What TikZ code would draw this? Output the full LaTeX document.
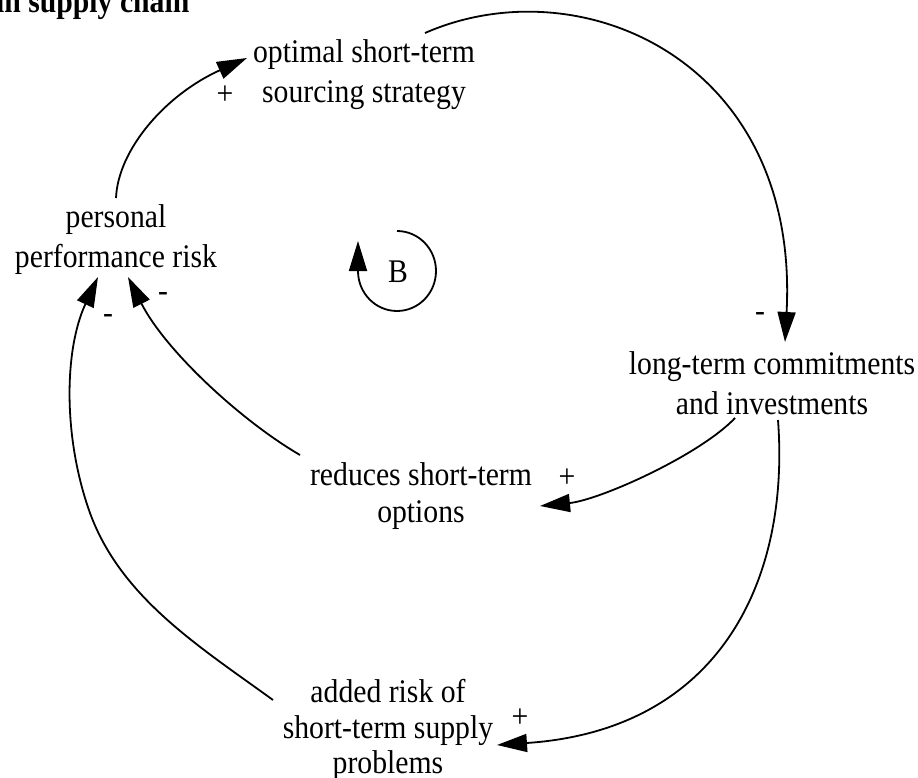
\documentclass[tikz,border=0pt]{standalone}
\usepackage{fontspec}
\setmainfont{Liberation Serif}[FakeStretch=0.9]
\usetikzlibrary{arrows.meta}
\begin{document}
\begin{tikzpicture}[x=1pt,y=-1pt,
  var/.style={align=center,inner sep=0pt,font=\fontsize{33}{40}\selectfont},
  sign/.style={inner sep=0pt,font=\fontsize{33}{40}\selectfont},
  link/.style={line width=1.8pt,-{Triangle[length=30pt,width=18pt]}},
]
\useasboundingbox (0,0) rectangle (918,778);

% heading, partly above the page edge
\node[anchor=base west,inner sep=0pt,font=\fontsize{33}{40}\selectfont\bfseries] (title) at (-4,13) {in supply chain};

% variables of the loop
\node[var] (opt) at (364,75) {optimal short-term\\sourcing strategy};
\node[var] (pp)  at (116,240) {personal\\performance risk};
\node[var] (lt)  at (772,383) {long-term commitments\\and investments};
\node[var,font=\fontsize{33}{37}\selectfont] (red) at (421,496) {reduces short-term\\options};
\node[var,font=\fontsize{33}{35.5}\selectfont] (add) at (388,730) {added risk of\\short-term supply\\problems};

% balancing loop marker
\node[sign] (B) at (398,272) {B};
\draw[link] ([shift={(-1,-41)}]B.center) arc[start angle=-90,end angle=180,x radius=39,y radius=40] -- ++(0,-30);

% causal links
\draw[link] ([shift={(0,-42)}]pp.center) .. controls (118,150) and (165,95) .. ([shift={(-117,-17)}]opt.center);
\draw[link] ([shift={(61,-42)}]opt.center) .. controls (580,-35) and (800,60) .. ([shift={(13,-41)}]lt.center);
\draw[link] ([shift={(-37,35)}]lt.center) .. controls (700,455) and (600,500) .. ([shift={(119,10)}]red.center);
\draw[link] ([shift={(6,37)}]lt.center) .. controls (790,580) and (720,730) .. ([shift={(109,15)}]add.center);
\draw[link] ([shift={(-121,-41)}]red.center) .. controls (240,420) and (165,350) .. ([shift={(12,37)}]pp.center);
\draw[link] ([shift={(-115,-30)}]add.center) .. controls (200,647) and (121,598) .. (90,513) .. controls (63,438) and (64,350) .. ([shift={(-18,37)}]pp.center);

% link polarities
\node[sign] (s1) at (225,95) {+};
\node[sign] (s2) at (760,317) {-};
\node[sign] (s3) at (567,478) {+};
\node[sign] (s4) at (520,718) {+};
\node[sign] (s5) at (163,297) {-};
\node[sign] (s6) at (108,319) {-};
\end{tikzpicture}
\end{document}
